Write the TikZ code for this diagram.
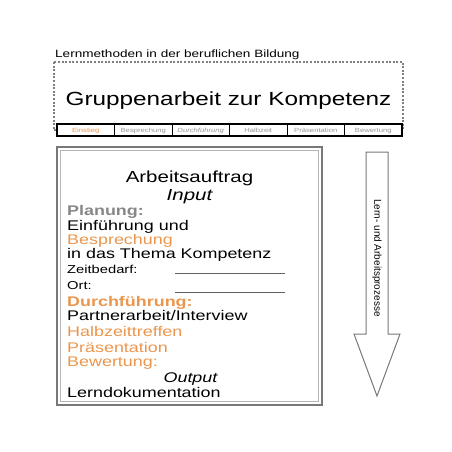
\documentclass[tikz,border=0pt]{standalone}
\usepackage{fontspec}
\setmainfont{Liberation Sans}[FakeStretch=1.28]
\newfontfamily\narrowsans{Liberation Sans}

\definecolor{phaseorange}{RGB}{234,150,78}
\definecolor{phasegray}{RGB}{135,135,135}
\definecolor{tabgray}{RGB}{150,150,150}
\definecolor{framegray}{RGB}{120,120,120}

\tikzset{
  entry/.style = {anchor = base west, inner sep = 0pt, font = \fontsize{14}{16}\selectfont},
  small entry/.style = {entry, font = \fontsize{11.5}{13}\selectfont},
  centred/.style = {anchor = base, inner sep = 0pt, font = \fontsize{16}{18}\selectfont},
  tab/.style = {anchor = base, inner sep = 0pt, font = \fontsize{6}{7}\selectfont, text = tabgray}
}

\begin{document}
\begin{tikzpicture}[x = 1pt, y = -1pt]

\useasboundingbox (0, 0) rectangle (452, 452);

% heading
\node[entry, font = \fontsize{10.6}{12}\selectfont] (reihe) at (55, 57) {Lernmethoden in der beruflichen Bildung};

\draw[gray, line width = 2.2pt, dash pattern = on 2pt off 1.6pt] (54, 62) rectangle (403, 130);

\node[anchor = base, inner sep = 0pt, font = \fontsize{19}{22}\selectfont] (titel) at (228.5, 105) {Gruppenarbeit zur Kompetenz};

% phases
\draw[fill = white, line width = 1.2pt] (57, 124) rectangle (402, 136);
\foreach \x in {1, ..., 5}
  \draw[line width = .8pt] (57 + 57.5 * \x, 124) to (57 + 57.5 * \x, 136);

\node[tab, text = phaseorange] (einstieg) at (85.75, 132.5) {Einstieg};
\node[tab] (besprechung) at (143.25, 132.5) {Besprechung};
\node[tab, font = \fontsize{6}{7}\selectfont\itshape] (durchfuehrung) at (200.75, 132.5) {Durchführung};
\node[tab] (halbzeit) at (258.25, 132.5) {Halbzeit};
\node[tab] (praesentation) at (315.75, 132.5) {Präsentation};
\node[tab] (bewertung) at (373.25, 132.5) {Bewertung};

% task card
\draw[framegray, line width = 2.5pt] (57, 147) rectangle (322, 405);
\draw[framegray!55, line width = .8pt] (60.5, 150.5) rectangle (318.5, 401.5);

\node[centred] (auftrag) at (189.5, 182) {Arbeitsauftrag};
\node[centred, font = \fontsize{16}{18}\selectfont\itshape] (input) at (189.5, 200) {Input};

\node[entry, font = \fontsize{14}{16}\selectfont\bfseries, text = phasegray] (planung) at (67, 215) {Planung:};
\node[entry] (einfuehrung) at (67, 230) {Einführung und};
\node[entry, text = phaseorange] (besprechen) at (67, 244) {Besprechung};
\node[entry] (thema) at (67, 258) {in das Thema Kompetenz};

\node[small entry] (zeit) at (67, 273) {Zeitbedarf:};
\coordinate (zeit a) at (175, 273);
\coordinate (zeit b) at (285, 273);
\draw[framegray!80!black, line width = 1pt] (zeit a) to (zeit b);

\node[small entry] (ort) at (67, 289) {Ort:};
\coordinate (ort a) at (175, 292);
\coordinate (ort b) at (285, 292);
\draw[framegray!80!black, line width = 1pt] (ort a) to (ort b);

\node[entry, font = \fontsize{14}{16}\selectfont\bfseries, text = phaseorange] (durchfuehren) at (67, 306) {Durchführung:};
\node[entry] (partner) at (67, 320) {Partnerarbeit/Interview};
\node[entry, text = phaseorange] (treffen) at (67, 336) {Halbzeittreffen};
\node[entry, text = phaseorange] (praesentieren) at (67, 352) {Präsentation};
\node[entry, text = phaseorange] (bewerten) at (67, 366) {Bewertung:};

\node[centred, font = \fontsize{14}{16}\selectfont\itshape] (output) at (190.5, 382) {Output};
\node[entry] (doku) at (67, 397) {Lerndokumentation};

% process arrow
\draw[framegray, line width = 1pt, fill = white] (366, 152) -- (388, 152) -- (388, 334) -- (400, 334) -- (377, 396) -- (354, 334) -- (366, 334) -- cycle;

\node[rotate = -90, inner sep = 0pt, font = \narrowsans\fontsize{10}{11}\selectfont] (prozess) at (377, 258) {Lern- und Arbeitsprozesse};

\end{tikzpicture}
\end{document}
